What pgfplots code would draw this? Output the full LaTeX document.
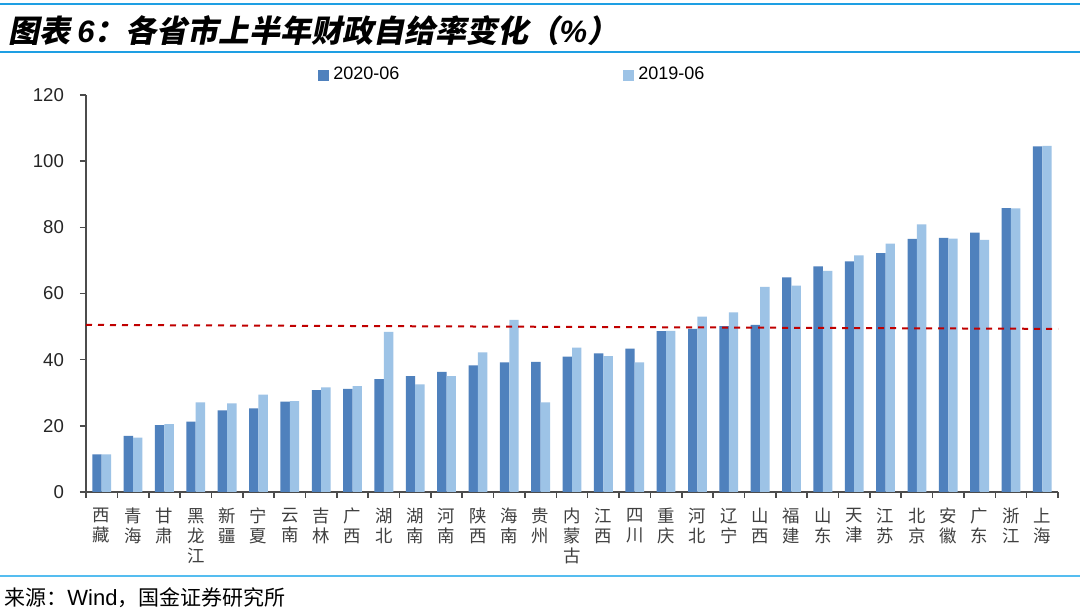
\documentclass[border=0pt]{standalone}
\usepackage{pgfplots}
\pgfplotsset{compat=1.18}
\usepackage{fontspec}
\setmainfont{Liberation Sans}
\newfontfamily\cjk{Noto Sans CJK SC}
\newfontfamily\cjktitle[FakeSlant=0.2]{Noto Sans CJK SC}
\definecolor{darkbar}{HTML}{4F81BD}
\definecolor{lightbar}{HTML}{9DC3E6}
\definecolor{topline}{HTML}{1E9FE3}
\definecolor{botline}{HTML}{55BDF0}
\definecolor{refred}{HTML}{C00000}
\pgfplotsset{sqlegend/.style={legend image code/.code={\fill[##1,draw=none] (0pt,-2.8pt) rectangle (5.5pt,2.8pt);}}}
\pgfplotstableread{
idx a b
0 11.4 11.4
1 17.0 16.4
2 20.2 20.5
3 21.3 27.1
4 24.7 26.8
5 25.3 29.4
6 27.3 27.5
7 30.8 31.6
8 31.2 32.0
9 34.1 48.4
10 35.0 32.5
11 36.3 35.0
12 38.3 42.2
13 39.2 52.0
14 39.3 27.1
15 40.9 43.6
16 41.9 41.1
17 43.3 39.2
18 48.6 48.7
19 49.3 53.0
20 50.1 54.3
21 50.5 62.0
22 64.9 62.4
23 68.2 66.8
24 69.7 71.5
25 72.2 75.1
26 76.5 80.9
27 76.8 76.6
28 78.4 76.2
29 85.8 85.7
30 104.5 104.6
}\datatable
\begin{document}
\begin{tikzpicture}[x=1pt,y=1pt]
\useasboundingbox (0,0) rectangle (540,306.5);
\fill[white] (0,0) rectangle (540,306.5);
\draw[topline, line width=1.2pt] (0,304.5) -- (540,304.5);
\draw[topline, line width=1.2pt] (0,280.5) -- (540,280.5);
\node[anchor=west, inner sep=0pt] at (4,291) {\cjktitle\bfseries\fontsize{15.5}{17}\selectfont 图表 {\rmfamily\bfseries\itshape 6}：各省市上半年财政自给率变化（{\rmfamily\bfseries\itshape\%}）};
\draw[botline, line width=1pt] (0,18.5) -- (540,18.5);
\node[anchor=west, inner sep=0pt] at (2,7.5) {\cjk\fontsize{10.5}{12}\selectfont 来源：{\rmfamily\fontsize{11}{12}\selectfont Wind}，国金证券研究所};
\begin{axis}[
  at={(43pt,60.5pt)}, anchor=south west, scale only axis,
  width=486pt, height=198.5pt,
  xmin=-0.5, xmax=30.5, ymin=0, ymax=120,
  ytick={0,20,...,120},
  xtick={0,...,30},
  minor xtick={-0.5,0.5,...,30.5},
  major x tick style={draw=none},
  tick align=outside,
  major tick length=3pt, minor tick length=3pt,
  tick style={black!70, line width=0.8pt},
  axis lines*=left,
  axis line style={black!70, line width=0.8pt},
  /pgf/number format/assume math mode=true,
  yticklabel style={font=\fontsize{9.3}{11}\selectfont, text=black!85, xshift=-4.5pt},
  xticklabels={{西\\藏},{青\\海},{甘\\肃},{黑\\龙\\江},{新\\疆},{宁\\夏},{云\\南},{吉\\林},{广\\西},{湖\\北},{湖\\南},{河\\南},{陕\\西},{海\\南},{贵\\州},{内\\蒙\\古},{江\\西},{四\\川},{重\\庆},{河\\北},{辽\\宁},{山\\西},{福\\建},{山\\东},{天\\津},{江\\苏},{北\\京},{安\\徽},{广\\东},{浙\\江},{上\\海}},
  xticklabel style={font=\cjk\fontsize{8.7}{10}\selectfont, align=center, anchor=north, text=black!75, yshift=-1.5pt},
  legend style={at={(0.2325,1.05)}, anchor=west, draw=none, fill=none, legend columns=2,
    font=\fontsize{9}{10}\selectfont, /tikz/every even column/.append style={column sep=110pt}},
]
\addplot[ybar, bar width=0.3, bar shift=-0.15, fill=darkbar, draw=none, sqlegend] table[x=idx, y=a] {\datatable};
\addlegendentry{2020-06}
\addplot[ybar, bar width=0.3, bar shift=0.15, fill=lightbar, draw=none, sqlegend] table[x=idx, y=b] {\datatable};
\addlegendentry{2019-06}
\addplot[refred, dashed, line width=1pt, forget plot] coordinates {(-0.5,50.5) (30.5,49.3)};
\end{axis}
\end{tikzpicture}
\end{document}
